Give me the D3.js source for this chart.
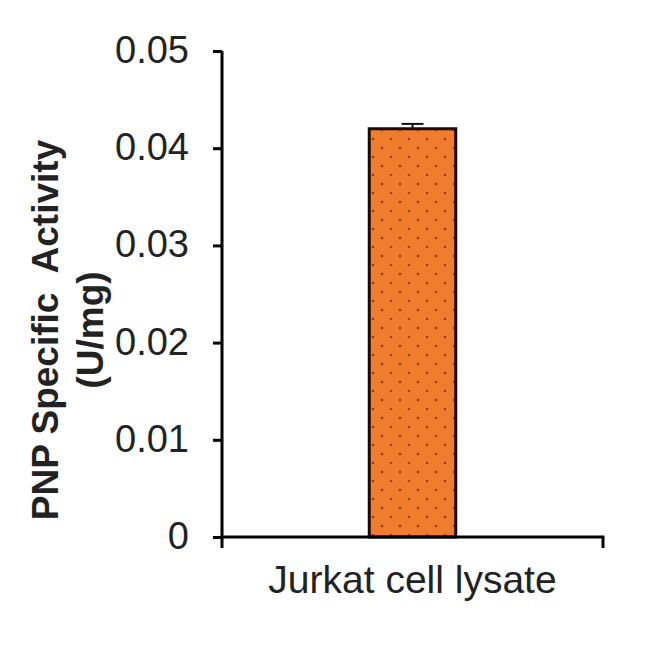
<!DOCTYPE html>
<html lang="en">
<head>
<meta charset="UTF-8">
<title>PNP Specific Activity</title>
<script src="https://cdnjs.cloudflare.com/ajax/libs/d3/7.8.5/d3.min.js"></script>
<style>
    body { margin: 0; background: #fff; }
    svg text { font-family: "Liberation Sans", Arial, sans-serif; fill: #222; }
    .ylabel { white-space: pre; }
</style>
</head>
<body>
<svg id="chart" width="650" height="648"></svg>
<script>
    // data
    const categories = ["Jurkat cell lysate"];
    const activity = [0.042];
    const activityErr = [0.0005];
    const yTicks = [0, 0.01, 0.02, 0.03, 0.04, 0.05];
    const yLabelLines = ["PNP Specific  Activity", "(U/mg)"];

    const svg = d3.select("#chart");
    const plotLeft = 222, plotRight = 603, plotTop = 51, plotBottom = 537;

    const x = d3.scaleBand().domain(categories).range([plotLeft, plotRight]).padding(0.63);
    const y = d3.scaleLinear().domain([0, 0.05]).range([plotBottom, plotTop]);
    const fmt = d => d === 0 ? "0" : d3.format(".2f")(d);

    // dotted fill for the bar
    const pat = svg.append("defs").append("pattern")
        .attr("id", "dots")
        .attr("patternUnits", "userSpaceOnUse")
        .attr("width", 18).attr("height", 18);
    pat.append("rect").attr("width", 18).attr("height", 18).attr("fill", "#f07d2e");
    pat.append("circle").attr("cx", 4).attr("cy", 4).attr("r", 1.3).attr("fill", "#9a3c14");
    pat.append("circle").attr("cx", 13).attr("cy", 13).attr("r", 1.3).attr("fill", "#9a3c14");

    // error bars (drawn first so the bar covers the lower half)
    const err = svg.append("g").attr("stroke", "#111").attr("stroke-width", 2);
    categories.forEach((c, i) => {
        const cx = x(c) + x.bandwidth() / 2;
        err.append("line")
            .attr("x1", cx).attr("x2", cx)
            .attr("y1", y(activity[i] - activityErr[i])).attr("y2", y(activity[i] + activityErr[i]));
        err.append("line")
            .attr("x1", cx - 11).attr("x2", cx + 11)
            .attr("y1", y(activity[i] + activityErr[i])).attr("y2", y(activity[i] + activityErr[i]));
    });

    svg.append("g")
        .selectAll("rect")
        .data(categories)
        .enter()
        .append("rect")
        .attr("x", d => x(d))
        .attr("width", x.bandwidth())
        .attr("y", (d, i) => y(activity[i]))
        .attr("height", (d, i) => plotBottom - y(activity[i]))
        .attr("fill", "url(#dots)")
        .attr("stroke", "#1a0a05")
        .attr("stroke-width", 3);

    // y axis
    const yAxis = svg.append("g")
        .attr("transform", `translate(${plotLeft},0)`)
        .call(d3.axisLeft(y).tickValues(yTicks).tickFormat(fmt)
            .tickSize(9).tickSizeOuter(0).tickPadding(24));
    yAxis.select(".domain").attr("stroke", "#000").attr("stroke-width", 3)
        .attr("d", `M0,${plotTop}V${plotBottom + 11}`);
    yAxis.selectAll(".tick line").attr("stroke", "#000").attr("stroke-width", 3);
    yAxis.selectAll(".tick text")
        .attr("font-size", 38)
        .attr("dy", "0.3em")
        .attr("fill", "#222");

    // x axis
    const xAxis = svg.append("g")
        .attr("transform", `translate(0,${plotBottom})`)
        .call(d3.axisBottom(x).tickSize(0).tickPadding(28));
    xAxis.select(".domain").attr("stroke", "#000").attr("stroke-width", 3)
        .attr("d", `M${plotLeft},0H${plotRight}V11`);
    xAxis.selectAll(".tick text")
        .attr("font-size", 39)
        .attr("fill", "#222");

    // y label
    const yl = svg.append("text")
        .attr("class", "ylabel")
        .attr("transform", "translate(58,330) rotate(-90)")
        .attr("text-anchor", "middle")
        .attr("font-weight", "bold")
        .attr("font-size", 37);
    yLabelLines.forEach((l, i) => {
        yl.append("tspan").attr("x", 0).attr("dy", i === 0 ? 0 : 45).text(l);
    });
</script>
</body>
</html>
